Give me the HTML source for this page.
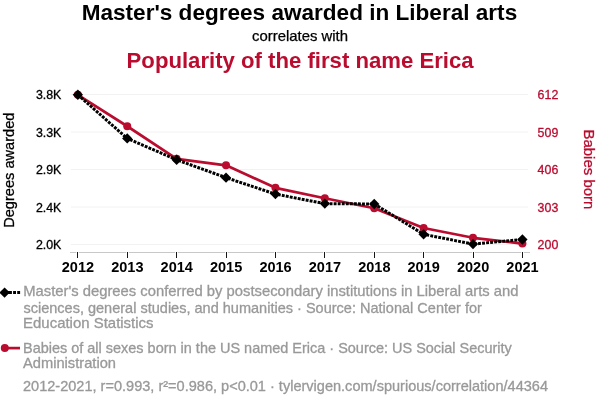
<!DOCTYPE html>
<html><head><meta charset="utf-8">
<style>
html,body{margin:0;padding:0;background:#fff;}
body{width:600px;height:408px;overflow:hidden;font-family:"Liberation Sans",sans-serif;}
svg{display:block;will-change:transform;}
text{font-family:"Liberation Sans",sans-serif;}
</style></head><body>
<svg width="600" height="408" viewBox="0 0 600 408">
<rect width="600" height="408" fill="#ffffff"/>
<text x="81.7" y="20" font-size="22.9" fill="#000" font-weight="bold" textLength="435.5" lengthAdjust="spacingAndGlyphs">Master's degrees awarded in Liberal arts</text>
<text x="252" y="41.4" font-size="13.9" fill="#000" textLength="96" lengthAdjust="spacingAndGlyphs" stroke="#000" stroke-width="0.25">correlates with</text>
<text x="126.6" y="68" font-size="22.9" fill="#ba0c2f" font-weight="bold" textLength="347" lengthAdjust="spacingAndGlyphs">Popularity of the first name Erica</text>
<g stroke="#f2f2f2" stroke-width="1">
<line x1="71" x2="528" y1="94.5" y2="94.5"/>
<line x1="71" x2="528" y1="132" y2="132"/>
<line x1="71" x2="528" y1="169.5" y2="169.5"/>
<line x1="71" x2="528" y1="207" y2="207"/>
<line x1="71" x2="528" y1="244.5" y2="244.5"/>
</g>
<rect x="70" y="252" width="460" height="1" fill="#c8c8c8"/>
<g fill="#fff" fill-opacity="0.8"><rect x="76" y="252" width="3" height="1"/><rect x="126" y="252" width="3" height="1"/><rect x="175" y="252" width="3" height="1"/><rect x="225" y="252" width="3" height="1"/><rect x="274" y="252" width="3" height="1"/><rect x="323" y="252" width="3" height="1"/><rect x="373" y="252" width="3" height="1"/><rect x="422" y="252" width="3" height="1"/><rect x="472" y="252" width="3" height="1"/><rect x="521" y="252" width="3" height="1"/></g>
<g fill="#161616"><rect x="77" y="252" width="1" height="6"/><rect x="127" y="252" width="1" height="6"/><rect x="176" y="252" width="1" height="6"/><rect x="226" y="252" width="1" height="6"/><rect x="275" y="252" width="1" height="6"/><rect x="324" y="252" width="1" height="6"/><rect x="374" y="252" width="1" height="6"/><rect x="423" y="252" width="1" height="6"/><rect x="473" y="252" width="1" height="6"/><rect x="522" y="252" width="1" height="6"/></g>
<text x="61.8" y="272.45" font-size="15.3" fill="#000" font-weight="bold" textLength="32.3" lengthAdjust="spacingAndGlyphs">2012</text>
<text x="111.19" y="272.45" font-size="15.3" fill="#000" font-weight="bold" textLength="32.3" lengthAdjust="spacingAndGlyphs">2013</text>
<text x="160.59" y="272.45" font-size="15.3" fill="#000" font-weight="bold" textLength="32.3" lengthAdjust="spacingAndGlyphs">2014</text>
<text x="209.98" y="272.45" font-size="15.3" fill="#000" font-weight="bold" textLength="32.3" lengthAdjust="spacingAndGlyphs">2015</text>
<text x="259.38" y="272.45" font-size="15.3" fill="#000" font-weight="bold" textLength="32.3" lengthAdjust="spacingAndGlyphs">2016</text>
<text x="308.77" y="272.45" font-size="15.3" fill="#000" font-weight="bold" textLength="32.3" lengthAdjust="spacingAndGlyphs">2017</text>
<text x="358.17" y="272.45" font-size="15.3" fill="#000" font-weight="bold" textLength="32.3" lengthAdjust="spacingAndGlyphs">2018</text>
<text x="407.56" y="272.45" font-size="15.3" fill="#000" font-weight="bold" textLength="32.3" lengthAdjust="spacingAndGlyphs">2019</text>
<text x="456.96" y="272.45" font-size="15.3" fill="#000" font-weight="bold" textLength="32.3" lengthAdjust="spacingAndGlyphs">2020</text>
<text x="506.35" y="272.45" font-size="15.3" fill="#000" font-weight="bold" textLength="32.3" lengthAdjust="spacingAndGlyphs">2021</text>
<text x="61.4" y="99" font-size="12.4" fill="#000" text-anchor="end" stroke="#000" stroke-width="0.3">3.8K</text>
<text x="537.6" y="99" font-size="12.4" fill="#ba0c2f" stroke="#ba0c2f" stroke-width="0.3">612</text>
<text x="61.4" y="136.5" font-size="12.4" fill="#000" text-anchor="end" stroke="#000" stroke-width="0.3">3.3K</text>
<text x="537.6" y="136.5" font-size="12.4" fill="#ba0c2f" stroke="#ba0c2f" stroke-width="0.3">509</text>
<text x="61.4" y="174" font-size="12.4" fill="#000" text-anchor="end" stroke="#000" stroke-width="0.3">2.9K</text>
<text x="537.6" y="174" font-size="12.4" fill="#ba0c2f" stroke="#ba0c2f" stroke-width="0.3">406</text>
<text x="61.4" y="211.5" font-size="12.4" fill="#000" text-anchor="end" stroke="#000" stroke-width="0.3">2.4K</text>
<text x="537.6" y="211.5" font-size="12.4" fill="#ba0c2f" stroke="#ba0c2f" stroke-width="0.3">303</text>
<text x="61.4" y="249" font-size="12.4" fill="#000" text-anchor="end" stroke="#000" stroke-width="0.3">2.0K</text>
<text x="537.6" y="249" font-size="12.4" fill="#ba0c2f" stroke="#ba0c2f" stroke-width="0.3">200</text>
<text transform="translate(14.3,170.2) rotate(-90)" text-anchor="middle" font-size="14.6" fill="#000" stroke="#000" stroke-width="0.3">Degrees awarded</text>
<text transform="translate(584.4,129.4) rotate(90)" font-size="14.8" textLength="80" lengthAdjust="spacingAndGlyphs" fill="#ba0c2f" stroke="#ba0c2f" stroke-width="0.3">Babies born</text>
<polyline fill="none" stroke="#ba0c2f" stroke-width="2.7" stroke-linejoin="round" points="77.85,94.85 127.24,126.25 176.64,158.85 226.03,165.35 275.43,187.85 324.82,198.3 374.22,208.3 423.61,228 473.01,237.8 522.4,243.6"/>
<g fill="#ba0c2f"><circle cx="77.85" cy="94.85" r="4"/><circle cx="127.24" cy="126.25" r="4"/><circle cx="176.64" cy="158.85" r="4"/><circle cx="226.03" cy="165.35" r="4"/><circle cx="275.43" cy="187.85" r="4"/><circle cx="324.82" cy="198.3" r="4"/><circle cx="374.22" cy="208.3" r="4"/><circle cx="423.61" cy="228" r="4"/><circle cx="473.01" cy="237.8" r="4"/><circle cx="522.4" cy="243.6" r="4"/></g>
<polyline fill="none" stroke="#000" stroke-width="3" stroke-dasharray="2.9,1.15" points="77.85,94.75 127.24,138.45 176.64,159.75 226.03,177.65 275.43,194.1 324.82,203.6 374.22,204 423.61,234.3 473.01,244.1 522.4,239.5"/>
<g fill="#000"><path d="M77.85,89.6l5.15,5.15 l-5.15,5.15 l-5.15,-5.15 z"/><path d="M127.24,133.3l5.15,5.15 l-5.15,5.15 l-5.15,-5.15 z"/><path d="M176.64,154.6l5.15,5.15 l-5.15,5.15 l-5.15,-5.15 z"/><path d="M226.03,172.5l5.15,5.15 l-5.15,5.15 l-5.15,-5.15 z"/><path d="M275.43,188.95l5.15,5.15 l-5.15,5.15 l-5.15,-5.15 z"/><path d="M324.82,198.45l5.15,5.15 l-5.15,5.15 l-5.15,-5.15 z"/><path d="M374.22,198.85l5.15,5.15 l-5.15,5.15 l-5.15,-5.15 z"/><path d="M423.61,229.15l5.15,5.15 l-5.15,5.15 l-5.15,-5.15 z"/><path d="M473.01,238.95l5.15,5.15 l-5.15,5.15 l-5.15,-5.15 z"/><path d="M522.4,234.35l5.15,5.15 l-5.15,5.15 l-5.15,-5.15 z"/></g>
<g fill="#000"><rect x="8" y="291" width="3.9" height="3"/><rect x="13.1" y="291" width="2.9" height="3"/><rect x="17.2" y="291" width="2.9" height="3"/></g>
<path d="M4.6,287.45l5.15,5.15l-5.15,5.15l-5.15,-5.15z" fill="#000"/>
<line x1="5" x2="20" y1="348.1" y2="348.1" stroke="#ba0c2f" stroke-width="2.7"/>
<circle cx="4.8" cy="348.1" r="4" fill="#ba0c2f"/>
<text x="23.2" y="296.1" font-size="14.2" fill="#999999" textLength="495.3" lengthAdjust="spacingAndGlyphs" stroke="#999999" stroke-width="0.3">Master's degrees conferred by postsecondary institutions in Liberal arts and</text>
<text x="23.4" y="312.5" font-size="14.2" fill="#999999" textLength="458.5" lengthAdjust="spacingAndGlyphs" stroke="#999999" stroke-width="0.3">sciences, general studies, and humanities · Source: National Center for</text>
<text x="23.1" y="328.4" font-size="14.2" fill="#999999" textLength="130.4" lengthAdjust="spacingAndGlyphs" stroke="#999999" stroke-width="0.3">Education Statistics</text>
<text x="23" y="352.8" font-size="14.2" fill="#999999" textLength="488.8" lengthAdjust="spacingAndGlyphs" stroke="#999999" stroke-width="0.3">Babies of all sexes born in the US named Erica · Source: US Social Security</text>
<text x="23" y="368.3" font-size="14.2" fill="#999999" textLength="93" lengthAdjust="spacingAndGlyphs" stroke="#999999" stroke-width="0.3">Administration</text>
<text x="23" y="391.4" font-size="14.2" fill="#999999" textLength="525" lengthAdjust="spacingAndGlyphs" stroke="#999999" stroke-width="0.3">2012-2021, r=0.993, r²=0.986, p&lt;0.01 · tylervigen.com/spurious/correlation/44364</text>
</svg>
</body></html>
